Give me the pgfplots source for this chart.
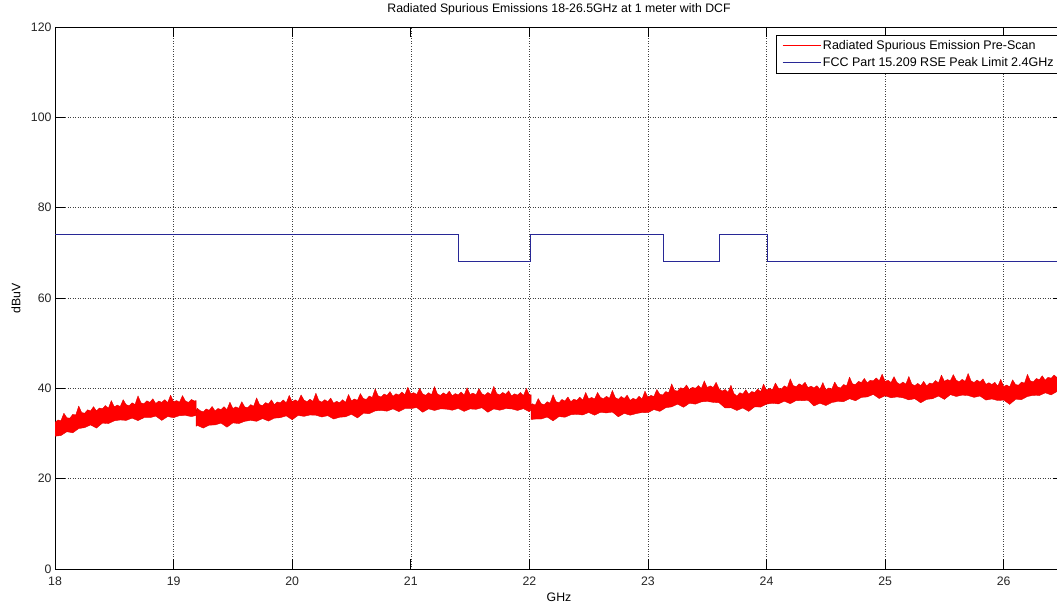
\documentclass[border=0pt]{standalone}
\usepackage{pgfplots}
\pgfplotsset{compat=1.18}
\usepackage{fontspec}
\setmainfont{Liberation Sans}
\definecolor{limblue}{RGB}{40,40,150}
\newcommand{\cf}{\fontsize{12.3}{14}\selectfont}
\begin{document}
\begin{tikzpicture}
\begin{axis}[
  scale only axis,
  width=1008pt, height=542pt,
  xmin=18, xmax=26.5, ymin=0, ymax=120,
  xtick={18,19,20,21,22,23,24,25,26},
  ytick={0,20,40,60,80,100,120},
  tick align=inside,
  major tick length=10pt,
  tick style={black, line width=0.7pt},
  axis line style={black, line width=0.8pt},
  grid=major,
  major grid style={black!75, line width=0.5pt, dotted},
  /pgf/number format/assume math mode=true,
  tick label style={font=\cf, text=black!85},
  xticklabel style={anchor=base, yshift=-16pt},
  title={Radiated Spurious Emissions 18-26.5GHz at 1 meter with DCF},
  title style={font=\cf, at={(axis description cs:0.5,1)}, anchor=base, yshift=8.7pt},
  xlabel={GHz},
  xlabel style={font=\cf, at={(axis description cs:0.5,0)}, anchor=base, yshift=-32pt},
  ylabel={dBuV},
  ylabel style={font=\cf, at={(axis description cs:-0.0387,0.5)}, anchor=center},
  legend style={font=\fontsize{12.5}{14}\selectfont, at={(rel axis cs:0.999,0.986)}, anchor=north east,
    draw=black, line width=0.7pt, fill=white, row sep=2.2pt,
    inner xsep=6pt, inner ysep=3.5pt, cells={anchor=west}},
]
\addplot[draw=red!88!black, fill=red, line width=0.35pt, line join=round,
  legend image code/.code={\draw[draw=red, fill=none, line width=0.6pt] (0pt,0pt) -- (38pt,0pt);}] coordinates {
(18.000,32.5) (18.025,33.0) (18.050,32.85) (18.075,34.5) (18.100,33.5) (18.125,33.4) (18.150,34.25) (18.175,34.1)
(18.200,36.1) (18.225,34.65) (18.250,34.5) (18.275,35.25) (18.300,35.0) (18.325,35.95) (18.350,35.0) (18.375,35.65)
(18.400,35.5) (18.425,36.2) (18.450,35.6) (18.475,37.3) (18.500,35.9) (18.525,36.3) (18.550,36.0) (18.575,37.5)
(18.600,36.4) (18.625,36.15) (18.650,36.8) (18.675,36.45) (18.700,38.35) (18.725,36.8) (18.750,36.6) (18.775,37.25)
(18.800,36.9) (18.825,37.7) (18.850,36.65) (18.875,37.2) (18.900,36.9) (18.925,37.5) (18.950,36.85) (18.975,38.5)
(19.000,37.0) (19.025,37.3) (19.050,36.95) (19.075,38.4) (19.100,37.2) (19.125,36.9) (19.150,37.55) (19.175,37.2)
(19.190,37.3) (19.190,34.6)
(19.200,35.6) (19.225,35.05) (19.250,34.8) (19.275,35.45) (19.300,35.15) (19.325,36.0) (19.350,35.0) (19.375,35.55)
(19.400,35.3) (19.425,35.95) (19.450,35.3) (19.475,36.95) (19.500,35.55) (19.525,35.9) (19.550,35.6) (19.575,37.05)
(19.600,35.9) (19.625,35.7) (19.650,36.4) (19.675,36.05) (19.700,37.9) (19.725,36.4) (19.750,36.2) (19.775,36.85)
(19.800,36.55) (19.825,37.45) (19.850,36.4) (19.875,37.0) (19.900,36.8) (19.925,37.45) (19.950,36.8) (19.975,38.45)
(20.000,37.05) (20.025,37.45) (20.050,37.1) (20.075,38.55) (20.100,37.4) (20.125,37.05) (20.150,37.6) (20.175,37.15)
(20.200,38.95) (20.225,37.3) (20.250,36.95) (20.275,37.5) (20.300,37.05) (20.325,37.85) (20.350,36.7) (20.375,37.15)
(20.400,36.8) (20.425,37.5) (20.450,36.9) (20.475,38.65) (20.500,37.25) (20.525,37.65) (20.550,37.35) (20.575,38.85)
(20.600,37.75) (20.625,37.55) (20.650,38.3) (20.675,38.0) (20.700,39.9) (20.725,38.35) (20.750,38.1) (20.775,38.75)
(20.800,38.45) (20.825,39.3) (20.850,38.25) (20.875,38.8) (20.900,38.55) (20.925,39.2) (20.950,38.6) (20.975,40.25)
(21.000,38.8) (21.025,39.05) (21.050,38.65) (21.075,40.0) (21.100,38.8) (21.125,38.45) (21.150,39.05) (21.175,38.6)
(21.200,40.4) (21.225,38.75) (21.250,38.45) (21.275,39.0) (21.300,38.6) (21.325,39.4) (21.350,38.35) (21.375,38.85)
(21.400,38.55) (21.425,39.2) (21.450,38.5) (21.475,40.15) (21.500,38.65) (21.525,38.95) (21.550,38.55) (21.575,39.95)
(21.600,38.8) (21.625,38.5) (21.650,39.1) (21.675,38.65) (21.700,40.45) (21.725,38.85) (21.750,38.55) (21.775,39.1)
(21.800,38.7) (21.825,39.45) (21.850,38.35) (21.875,38.8) (21.900,38.5) (21.925,39.1) (21.950,38.4) (21.975,40.0)
(22.000,38.5) (22.015,38.6) (22.015,36.2)
(22.025,36.6) (22.050,36.3) (22.075,37.75) (22.100,36.6) (22.125,36.4) (22.150,37.05) (22.175,36.75)
(22.200,38.6) (22.225,37.05) (22.250,36.85) (22.275,37.55) (22.300,37.2) (22.325,38.1) (22.350,37.05) (22.375,37.6)
(22.400,37.35) (22.425,38.05) (22.450,37.4) (22.475,39.1) (22.500,37.65) (22.525,38.0) (22.550,37.65) (22.575,39.1)
(22.600,38.0) (22.625,37.7) (22.650,38.25) (22.675,37.8) (22.700,39.55) (22.725,37.95) (22.750,37.6) (22.775,38.2)
(22.800,37.75) (22.825,38.5) (22.850,37.35) (22.875,37.8) (22.900,37.5) (22.925,38.25) (22.950,37.65) (22.975,39.4)
(23.000,38.0) (23.025,38.45) (23.050,38.2) (23.075,39.75) (23.100,38.7) (23.125,38.55) (23.150,39.3) (23.175,39.05)
(23.200,41.0) (23.225,39.55) (23.250,39.4) (23.275,40.15) (23.300,39.9) (23.325,40.75) (23.350,39.7) (23.375,40.25)
(23.400,40.0) (23.425,40.65) (23.450,40.0) (23.475,41.65) (23.500,40.2) (23.525,40.55) (23.550,40.2) (23.575,41.35)
(23.600,39.9) (23.625,39.4) (23.650,39.75) (23.675,39.15) (23.700,40.7) (23.725,38.85) (23.750,38.3) (23.775,39.05)
(23.800,38.75) (23.825,39.7) (23.850,38.7) (23.875,39.3) (23.900,39.1) (23.925,39.85) (23.950,39.25) (23.975,40.95)
(24.000,39.6) (24.025,40.0) (24.050,39.7) (24.075,41.2) (24.100,40.05) (24.125,39.85) (24.150,40.55) (24.175,40.2)
(24.200,42.1) (24.225,40.6) (24.250,40.4) (24.275,41.0) (24.300,40.65) (24.325,41.35) (24.350,40.15) (24.375,40.5)
(24.400,40.1) (24.425,40.6) (24.450,39.8) (24.475,41.3) (24.500,39.7) (24.525,40.1) (24.550,39.85) (24.575,41.4)
(24.600,40.3) (24.625,40.1) (24.650,40.85) (24.675,40.55) (24.700,42.5) (24.725,41.0) (24.750,40.85) (24.775,41.55)
(24.800,41.3) (24.825,42.2) (24.850,41.2) (24.875,41.8) (24.900,41.65) (24.925,42.3) (24.950,41.65) (24.975,43.15)
(25.000,41.55) (25.025,41.8) (25.050,41.3) (25.075,42.6) (25.100,41.3) (25.125,40.9) (25.150,41.4) (25.175,40.95)
(25.200,42.65) (25.225,40.95) (25.250,40.6) (25.275,41.1) (25.300,40.6) (25.325,41.55) (25.350,40.55) (25.375,41.2)
(25.400,41.0) (25.425,41.75) (25.450,41.2) (25.475,42.95) (25.500,41.55) (25.525,41.95) (25.550,41.7) (25.575,43.05)
(25.600,41.8) (25.625,41.45) (25.650,42.0) (25.675,41.55) (25.700,43.3) (25.725,41.65) (25.750,41.3) (25.775,41.85)
(25.800,41.4) (25.825,42.1) (25.850,40.9) (25.875,41.25) (25.900,40.85) (25.925,41.35) (25.950,40.5) (25.975,42.0)
(26.000,40.4) (26.025,40.75) (26.050,40.35) (26.075,41.9) (26.100,40.85) (26.125,40.7) (26.150,41.4) (26.175,41.15)
(26.200,43.1) (26.225,41.65) (26.250,41.45) (26.275,42.2) (26.300,41.9) (26.325,42.8) (26.350,41.8) (26.375,42.45)
(26.400,42.25) (26.425,42.95) (26.450,42.4) (26.475,44.1) (26.500,42.7)
(26.50,39.4) (26.45,39.3) (26.40,38.55) (26.35,39.0) (26.30,38.4) (26.25,38.45) (26.20,38.2) (26.15,37.5)
(26.10,37.55) (26.05,36.45) (26.00,37.4) (25.95,37.3) (25.90,37.65) (25.85,37.4) (25.80,38.3) (25.75,38.0)
(25.70,38.4) (25.65,38.5) (25.60,38.2) (25.55,38.6) (25.50,37.55) (25.45,38.3) (25.40,37.7) (25.35,37.55)
(25.30,36.8) (25.25,37.7) (25.20,37.45) (25.15,37.9) (25.10,38.1) (25.05,37.9) (25.00,38.35) (24.95,37.75)
(24.90,38.65) (24.85,38.1) (24.80,38.0) (24.75,37.25) (24.70,37.7) (24.65,37.05) (24.60,37.1) (24.55,36.85)
(24.50,36.2) (24.45,36.7) (24.40,36.1) (24.35,37.35) (24.30,37.25) (24.25,37.3) (24.20,36.6) (24.15,37.15)
(24.10,36.55) (24.05,36.7) (24.00,36.5) (23.95,35.85) (23.90,35.9) (23.85,34.9) (23.80,35.65) (23.75,35.1)
(23.70,35.7) (23.65,35.65) (23.60,36.8) (23.55,36.9) (23.50,37.1) (23.45,37.0) (23.40,36.5) (23.35,36.7)
(23.30,35.8) (23.25,36.5) (23.20,35.9) (23.15,35.7) (23.10,34.9) (23.05,35.3) (23.00,34.6) (22.95,34.65)
(22.90,34.4) (22.85,34.05) (22.80,34.45) (22.75,33.7) (22.70,34.75) (22.65,34.55) (22.60,34.7) (22.55,34.05)
(22.50,34.65) (22.45,34.1) (22.40,34.25) (22.35,34.15) (22.30,33.6) (22.25,33.75) (22.20,32.8) (22.15,33.65)
(22.10,33.2) (22.05,33.2) (22.015,33.1) (22.015,35.4)
(22.00,34.8) (21.95,35.5) (21.90,35.1) (21.85,35.45) (21.80,35.5) (21.75,35.15) (21.70,35.45) (21.65,34.7)
(21.60,35.7) (21.55,35.35) (21.50,35.45) (21.45,34.9) (21.40,35.55) (21.35,35.15) (21.30,35.4) (21.25,35.45)
(21.20,35.1) (21.15,35.45) (21.10,34.7) (21.05,35.75) (21.00,35.5) (20.95,35.5) (20.90,34.85) (20.85,35.45)
(20.80,34.95) (20.75,35.1) (20.70,35.0) (20.65,34.4) (20.60,34.45) (20.55,33.45) (20.50,34.25) (20.45,33.7)
(20.40,33.6) (20.35,33.2) (20.30,33.95) (20.25,33.65) (20.20,34.05) (20.15,34.1) (20.10,33.8) (20.05,34.0)
(20.00,33.05) (19.95,33.9) (19.90,33.5) (19.85,33.4) (19.80,32.75) (19.75,33.3) (19.70,32.7) (19.65,32.9)
(19.60,32.7) (19.55,32.2) (19.50,32.35) (19.45,31.4) (19.40,32.3) (19.35,31.9) (19.30,31.85) (19.25,31.2)
(19.20,31.8) (19.19,31.6) (19.19,34.0)
(19.15,33.75) (19.10,34.0) (19.05,33.95) (19.00,33.5) (18.95,33.75) (18.90,32.9) (18.85,33.85) (18.80,33.5)
(18.75,33.5) (18.70,32.85) (18.65,33.4) (18.60,32.9) (18.55,33.0) (18.50,32.8) (18.45,32.2) (18.40,32.3)
(18.35,31.2) (18.30,31.9) (18.25,31.3) (18.20,31.1) (18.15,30.15) (18.10,30.4) (18.05,29.55) (18.00,29.4)
} -- cycle;
\addlegendentry{Radiated Spurious Emission Pre-Scan}

\addplot[limblue, line width=0.8pt,
  legend image code/.code={\draw[draw=limblue, line width=0.6pt] (0pt,0pt) -- (38pt,0pt);}] coordinates {
(18,74) (21.40,74) (21.40,68.2) (22.01,68.2) (22.01,74) (23.13,74) (23.13,68.2)
(23.60,68.2) (23.60,74) (24.01,74) (24.01,68.2) (26.5,68.2)
};
\addlegendentry{FCC Part 15.209 RSE Peak Limit 2.4GHz}
\coordinate (ll) at (rel axis cs:0,0);
\coordinate (ur) at (rel axis cs:1,1);
\end{axis}
\pgfresetboundingbox
\path[use as bounding box] ([xshift=-55pt,yshift=-37pt]ll) rectangle ([xshift=-6pt,yshift=27pt]ur);
\end{tikzpicture}
\end{document}
